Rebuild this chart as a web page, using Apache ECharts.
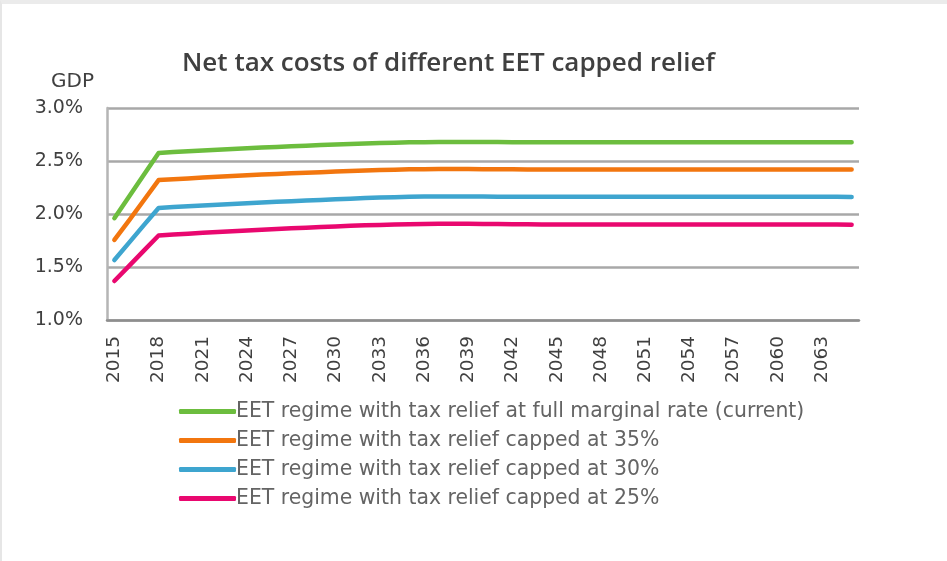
<!DOCTYPE html>
<html>
<head>
<meta charset="utf-8">
<script src="https://cdn.jsdelivr.net/npm/echarts@6/dist/echarts.min.js"></script>
<style>
html,body{margin:0;padding:0;background:#fff;}
#c{position:absolute;left:0;top:0;width:947px;height:561px;}
#frame{position:absolute;left:0;top:0;width:945px;height:557px;border-top:4px solid #ebebeb;border-left:2px solid #e6e6e6;pointer-events:none;}
</style>
</head>
<body>
<div id="c"></div>
<div id="frame"></div>
<script>
const years = [];
for (let y = 2015; y <= 2065; y++) years.push(String(y));

const seriesNames = [
  'EET regime with tax relief at full marginal rate (current)',
  'EET regime with tax relief capped at 35%',
  'EET regime with tax relief capped at 30%',
  'EET regime with tax relief capped at 25%'
];

// values in % of GDP, 2015..2065
const fullRate = [1.96,2.165,2.37,2.575,2.585,2.593,2.600,2.607,2.614,2.620,2.627,2.633,2.639,2.645,2.650,2.655,2.660,2.665,2.669,2.673,2.676,2.678,2.680,2.680,2.680,2.680,2.679,2.678,2.677,2.677,2.677,2.677,2.677,2.677,2.677,2.677,2.677,2.677,2.677,2.677,2.677,2.677,2.677,2.677,2.677,2.677,2.677,2.677,2.677,2.677,2.676];
const cap35 = [1.755,1.94,2.13,2.320,2.328,2.336,2.344,2.351,2.358,2.365,2.372,2.378,2.384,2.390,2.395,2.400,2.405,2.410,2.414,2.418,2.421,2.423,2.424,2.424,2.424,2.423,2.422,2.421,2.420,2.420,2.420,2.420,2.420,2.420,2.420,2.420,2.420,2.420,2.420,2.420,2.420,2.420,2.420,2.420,2.420,2.420,2.420,2.420,2.420,2.420,2.419];
const cap30 = [1.566,1.73,1.895,2.057,2.065,2.073,2.080,2.087,2.094,2.101,2.108,2.115,2.121,2.127,2.133,2.139,2.145,2.150,2.155,2.159,2.162,2.164,2.165,2.165,2.165,2.164,2.163,2.162,2.162,2.162,2.162,2.162,2.162,2.162,2.162,2.162,2.162,2.162,2.162,2.162,2.162,2.162,2.162,2.162,2.162,2.162,2.162,2.162,2.162,2.162,2.161];
const cap25 = [1.368,1.51,1.655,1.797,1.806,1.814,1.822,1.830,1.837,1.844,1.851,1.858,1.865,1.871,1.877,1.883,1.888,1.893,1.897,1.901,1.904,1.906,1.907,1.907,1.907,1.906,1.905,1.904,1.903,1.902,1.902,1.902,1.902,1.902,1.902,1.902,1.902,1.902,1.902,1.902,1.902,1.902,1.902,1.902,1.902,1.902,1.902,1.902,1.902,1.901,1.899];

const colors = ['#6cbd3e','#f2760f','#3ea5cf','#e9086f'];
const allData = [fullRate, cap35, cap30, cap25];

const chart = echarts.init(document.getElementById('c'), null, {renderer:'canvas'});
chart.setOption({
  animation:false,
  backgroundColor:'#ffffff',
  title:{
    text:'Net tax costs of different EET capped relief',
    left:177, top:46,
    textStyle:{fontFamily:'Open Sans', fontWeight:600, fontSize:26, color:'#404040'}
  },
  legend:{
    orient:'vertical', left:174, top:395,
    itemWidth:57, itemHeight:5, itemGap:6,
    icon:'roundRect',
    textStyle:{fontFamily:'DejaVu Sans', fontSize:20.4, lineHeight:23, color:'#646464', padding:[0,0,0,-5]},
    data:seriesNames
  },
  grid:{left:107, right:88, top:108, bottom:241},
  xAxis:{
    type:'category', data:years, boundaryGap:true,
    axisLine:{show:true, lineStyle:{color:'#8e8e8e', width:2.5}},
    axisTick:{show:false},
    axisLabel:{interval:2, rotate:90, margin:16, fontFamily:'DejaVu Sans', fontSize:18.5, color:'#404040'},
    splitLine:{show:false}
  },
  yAxis:{
    type:'value', min:1.0, max:3.0, interval:0.5,
    name:'GDP', nameLocation:'end', nameGap:16,
    nameTextStyle:{fontFamily:'DejaVu Sans', fontSize:20, color:'#404040', align:'right', padding:[0,13,0,0]},
    axisLine:{show:true, lineStyle:{color:'#b5b5b5', width:2.5}},
    axisTick:{show:false},
    axisLabel:{margin:24, fontFamily:'DejaVu Sans', fontSize:19, color:'#404040', formatter:v=>v.toFixed(1)+'%'},
    splitLine:{show:true, lineStyle:{color:'#a8a8a8', width:2.5}}
  },
  series: seriesNames.map((n,i)=>({
    name:n, type:'line', data:allData[i], showSymbol:false, symbol:'none',
    lineStyle:{color:colors[i], width:4.5, cap:'round', join:'round'},
    itemStyle:{color:colors[i]}
  }))
});
</script>
</body>
</html>
